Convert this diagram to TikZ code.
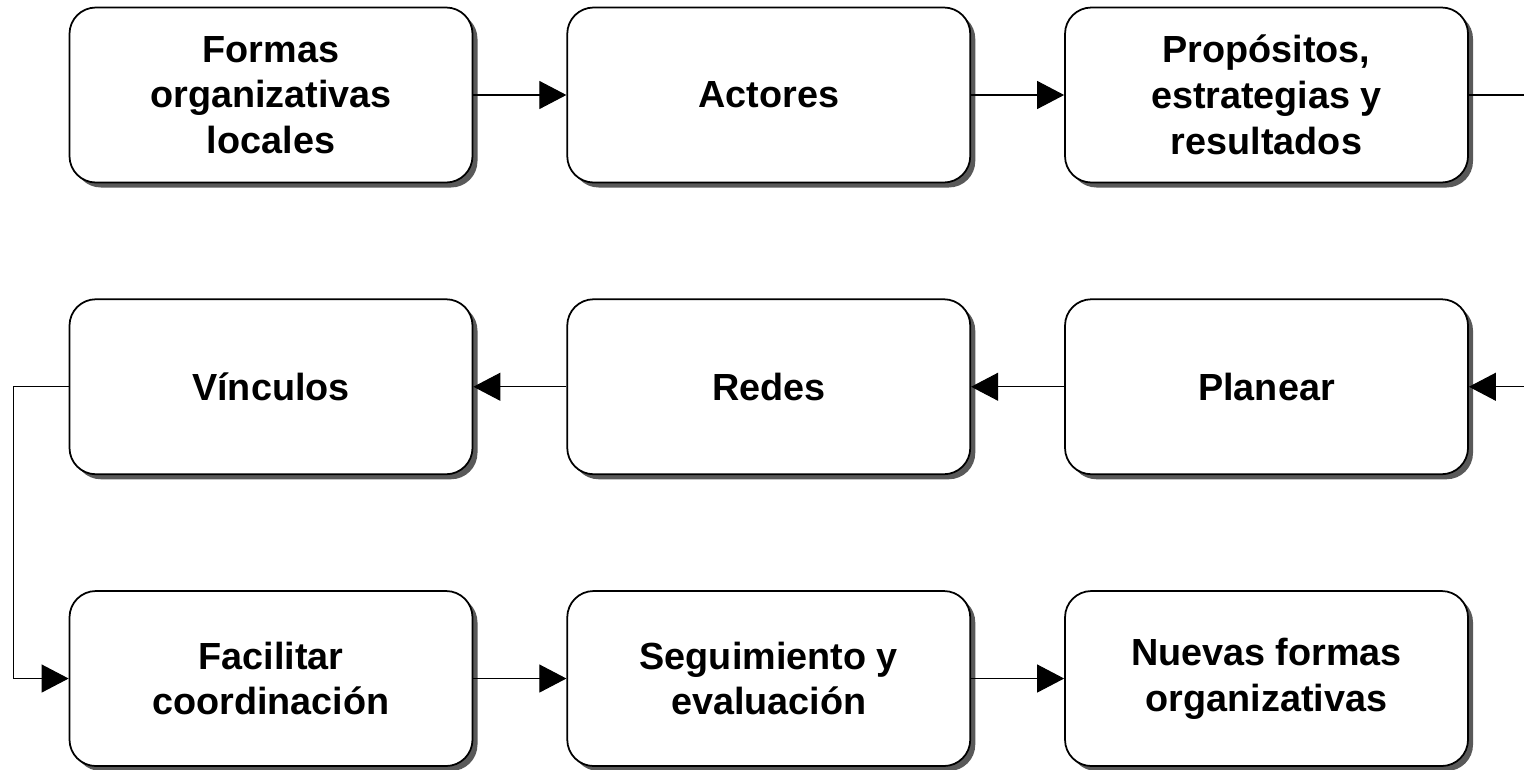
\documentclass[tikz,border=0pt]{standalone}
\usepackage{fontspec}
\setmainfont{Liberation Sans}
\usetikzlibrary{arrows.meta,positioning,shadows}

\tikzset{
  etapa/.style={draw,line width=1pt,rounded corners=15pt,minimum width=8.06cm,minimum height=3.5cm,inner sep=0pt,align=center,fill=white,font=\fontsize{21.5}{26}\selectfont\bfseries,drop shadow={shadow xshift=.1cm,shadow yshift=-.1cm,fill=black!65,opacity=1}},
  flecha/.style={-{Triangle[length=.54cm,width=.56cm]},line width=.6pt}
}

\begin{document}
\begin{tikzpicture}[node distance=2.3cm and 1.86cm]
\useasboundingbox (0,0) rectangle (30.48,-15.38);
\clip (0,0) rectangle (30.48,-15.38);
\node[etapa] (formas) at (5.42,-1.9) {Formas\\organizativas\\locales};
\node[etapa,right=of formas] (actores) {Actores};
\node[etapa,right=of actores] (propos) {Propósitos,\\estrategias y\\resultados};
\node[etapa,below=of propos] (planear) {Planear};
\node[etapa,left=of planear] (redes) {Redes};
\node[etapa,left=of redes] (vinculos) {Vínculos};
\node[etapa,below=of vinculos] (facilitar) {Facilitar\\coordinación};
\node[etapa,right=of facilitar] (seguim) {Seguimiento y\\evaluación};
\node[etapa,right=of seguim] (nuevas) {Nuevas formas\\organizativas};
\draw[flecha] (formas)--(actores);\draw[flecha] (actores)--(propos);
\draw[flecha] (propos.east)--++(2,0)|-(planear.east);
\draw[flecha] (planear)--(redes);\draw[flecha] (redes)--(vinculos);
\draw[flecha] (vinculos.west)--++(-1.1,0)|-(facilitar.west);
\draw[flecha] (facilitar)--(seguim);\draw[flecha] (seguim)--(nuevas);
\end{tikzpicture}
\end{document}
